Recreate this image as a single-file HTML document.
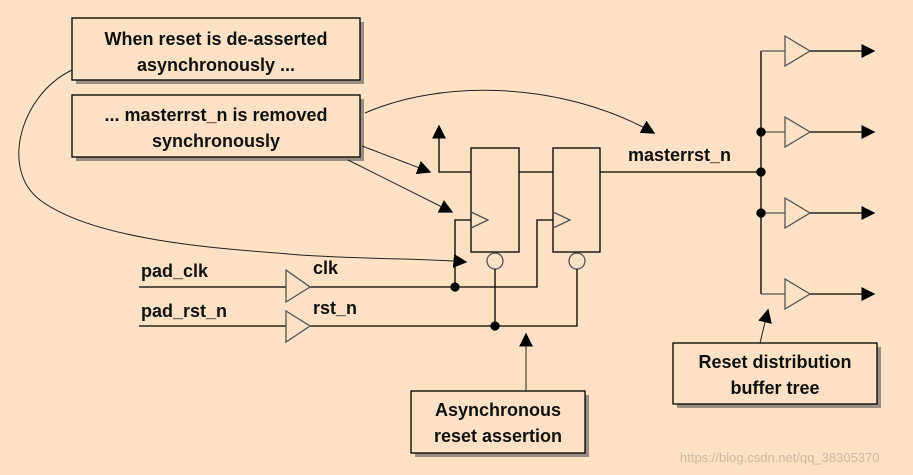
<!DOCTYPE html>
<html><head><style>
body{margin:0;background:#fde1c4;}
svg{display:block}
text{font-family:"Liberation Sans",Arial,sans-serif;font-weight:bold;font-size:18px;fill:#111}
</style></head><body>
<svg width="913" height="475" viewBox="0 0 913 475">
<rect width="913" height="475" fill="#fde1c4"/>
<defs>
<marker id="b" viewBox="0 0 10 10" refX="9" refY="5" markerWidth="14" markerHeight="14" markerUnits="userSpaceOnUse" orient="auto"><path d="M0,0L10,5L0,10z" fill="#000"/></marker></defs>
<g stroke="#000" stroke-width="1.3" fill="none">
<rect x="76" y="22" width="288" height="62" fill="#9a8e84" stroke="none"/>
<rect x="72" y="18" width="288" height="62" fill="#fde1c4"/>
<rect x="76" y="99" width="288" height="62" fill="#9a8e84" stroke="none"/>
<rect x="72" y="95" width="288" height="62" fill="#fde1c4"/>
<rect x="415" y="395" width="174" height="62" fill="#9a8e84" stroke="none"/>
<rect x="411" y="391" width="174" height="62" fill="#fde1c4"/>
<rect x="677" y="347" width="204" height="61" fill="#9a8e84" stroke="none"/>
<rect x="673" y="343" width="204" height="61" fill="#fde1c4"/>
<rect x="471" y="148" width="48" height="104"/>
<rect x="553" y="148" width="47" height="104"/>
<path d="M471,212L488,220L471,228M553,212L570,220L553,228" stroke="#555"/>
<circle cx="495" cy="261" r="8" stroke="#555"/>
<circle cx="577" cy="261" r="8" stroke="#555"/>
<path d="M471,172H439V126" marker-end="url(#b)"/>
<path d="M519,172H553M600,172H761"/>
<path d="M139,287H286M310,287H537V220H553M455,287V220H471"/>
<path d="M139,326H286M310,326H577V269M495,326V269" />
<circle cx="455" cy="287" r="4" fill="#000"/>
<circle cx="495" cy="326" r="4" fill="#000"/>
<path d="M286,270L310,287L286,302Z" stroke="#555"/>
<path d="M286,311L310,326L286,342Z" stroke="#555"/>
<path d="M761,51V294"/>
<g stroke="#555">
<path d="M761,51H785M761,132H785M761,213H785M761,294H785"/>
<path d="M785,36L810,51L785,66ZM785,117L810,132L785,147ZM785,198L810,213L785,228ZM785,279L810,294L785,309Z"/>
</g>
<path d="M810,51H874" marker-end="url(#b)"/>
<path d="M810,132H874" marker-end="url(#b)"/>
<path d="M810,213H874" marker-end="url(#b)"/>
<path d="M810,294H874" marker-end="url(#b)"/>
<circle cx="761" cy="132" r="4" fill="#000"/>
<circle cx="761" cy="172" r="4" fill="#000"/>
<circle cx="761" cy="213" r="4" fill="#000"/>
<g stroke-width="1" stroke="#222">
<path d="M72,70C20,95 0,170 40,200C100,245 250,250 300,255C380,260 420,258 466,262" marker-end="url(#b)"/>
<path d="M362,146L430,172" marker-end="url(#b)"/>
<path d="M348,160L452,212" marker-end="url(#b)"/>
<path d="M365,113C440,80 560,80 654,133" marker-end="url(#b)"/>
<path d="M760,343L768,310" marker-end="url(#b)"/>
<path d="M526,391V334" marker-end="url(#b)"/>
</g>
</g>
<text x="216" y="45" text-anchor="middle">When reset is de-asserted</text>
<text x="216" y="71" text-anchor="middle">asynchronously  ...</text>
<text x="216" y="121" text-anchor="middle">... masterrst_n is removed</text>
<text x="216" y="147" text-anchor="middle">synchronously</text>
<text x="498" y="416" text-anchor="middle">Asynchronous</text>
<text x="498" y="442" text-anchor="middle">reset assertion</text>
<text x="775" y="368" text-anchor="middle">Reset distribution</text>
<text x="775" y="394" text-anchor="middle">buffer tree</text>
<text x="628" y="161">masterrst_n</text>
<text x="141" y="277">pad_clk</text>
<text x="141" y="317">pad_rst_n</text>
<text x="313" y="274">clk</text>
<text x="313" y="314">rst_n</text>
<text x="680" y="462" style="font-weight:normal;font-size:13px;fill:#c8b8a8">https://blog.csdn.net/qq_38305370</text>
</svg>
</body></html>
